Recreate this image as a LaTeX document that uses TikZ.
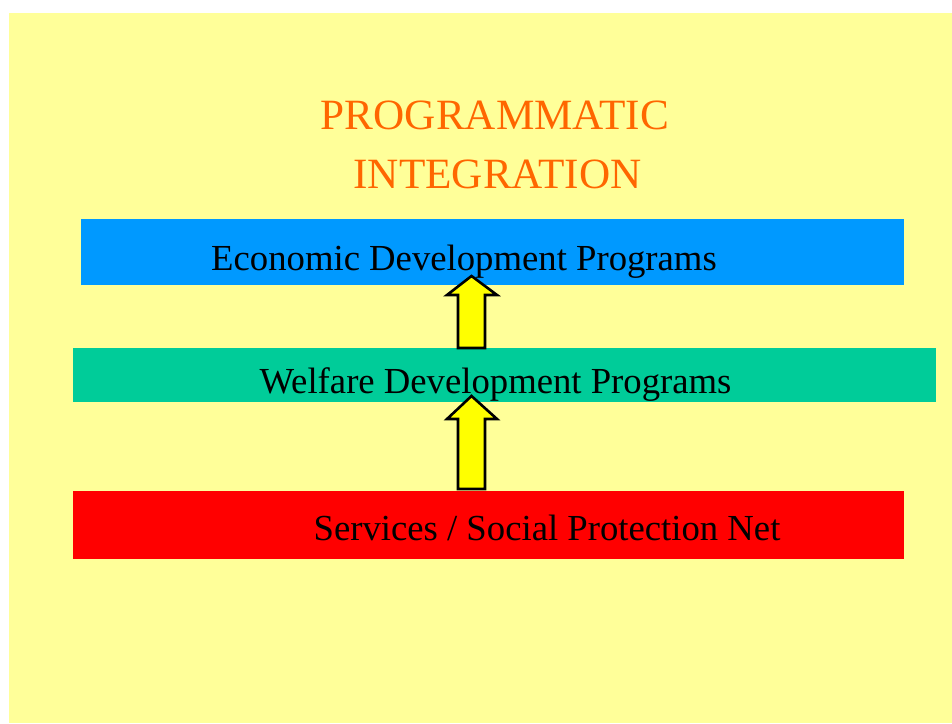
\documentclass[tikz,border=0pt]{standalone}
\usepackage{fontspec}
\setmainfont{Liberation Serif}
\usetikzlibrary{fit}
\definecolor{pagebg}{HTML}{FFFF99}
\definecolor{titleorange}{HTML}{FF6600}
\definecolor{econblue}{HTML}{0099FF}
\definecolor{welfgreen}{HTML}{00CC99}
\definecolor{servred}{HTML}{FF0000}
\definecolor{arrowyellow}{HTML}{FFFF00}

\begin{document}
\begin{tikzpicture}[x=0.5pt,y=-0.5pt,
  bar/.style={inner sep=0pt,draw=none},
  bartext/.style={anchor=base,inner sep=0pt,font=\fontsize{18.35}{22}\selectfont,text=black},
  titletext/.style={anchor=base,inner sep=0pt,font=\fontsize{21.6}{26}\selectfont,text=titleorange},
  uparr/.style={draw=black,fill=arrowyellow,line width=1.3pt,line join=miter}]

  \useasboundingbox (0,0) rectangle (952,723);
  \fill[white] (0,0) rectangle (952,723);
  \fill[pagebg] (9,13) rectangle (952,723);

  % heading
  \node[titletext] (title1) at (495,129) {PROGRAMMATIC};
  \node[titletext] (title2) at (497.5,188) {INTEGRATION};

  % the three levels of programs
  \node[bar,fill=econblue,fit={(81,219) (904,285)}] (econ) {};
  \node[bar,fill=welfgreen,fit={(73,348) (936,402)}] (welf) {};
  \node[bar,fill=servred,fit={(73,491) (904,559)}] (serv) {};

  \node[bartext] (econtxt) at (464,270) {Economic Development Programs};
  \node[bartext] (welftxt) at (495.5,393) {Welfare Development Programs};
  \node[bartext] (servtxt) at (547,540) {Services / Social Protection Net};

  % block arrows pointing upwards
  \foreach \nm/\b/\len/\hd in {up/348/72/53, low/489/93/70}{
    \coordinate (\nm base) at (471.5,\b);
    \draw[uparr] (\nm base) +(-13.5,0) -- +(-13.5,-\hd) -- +(-24.5,-\hd)
      -- +(0,-\len) -- +(25.5,-\hd) -- +(13.5,-\hd) -- +(13.5,0) -- cycle;
  }
\end{tikzpicture}
\end{document}
